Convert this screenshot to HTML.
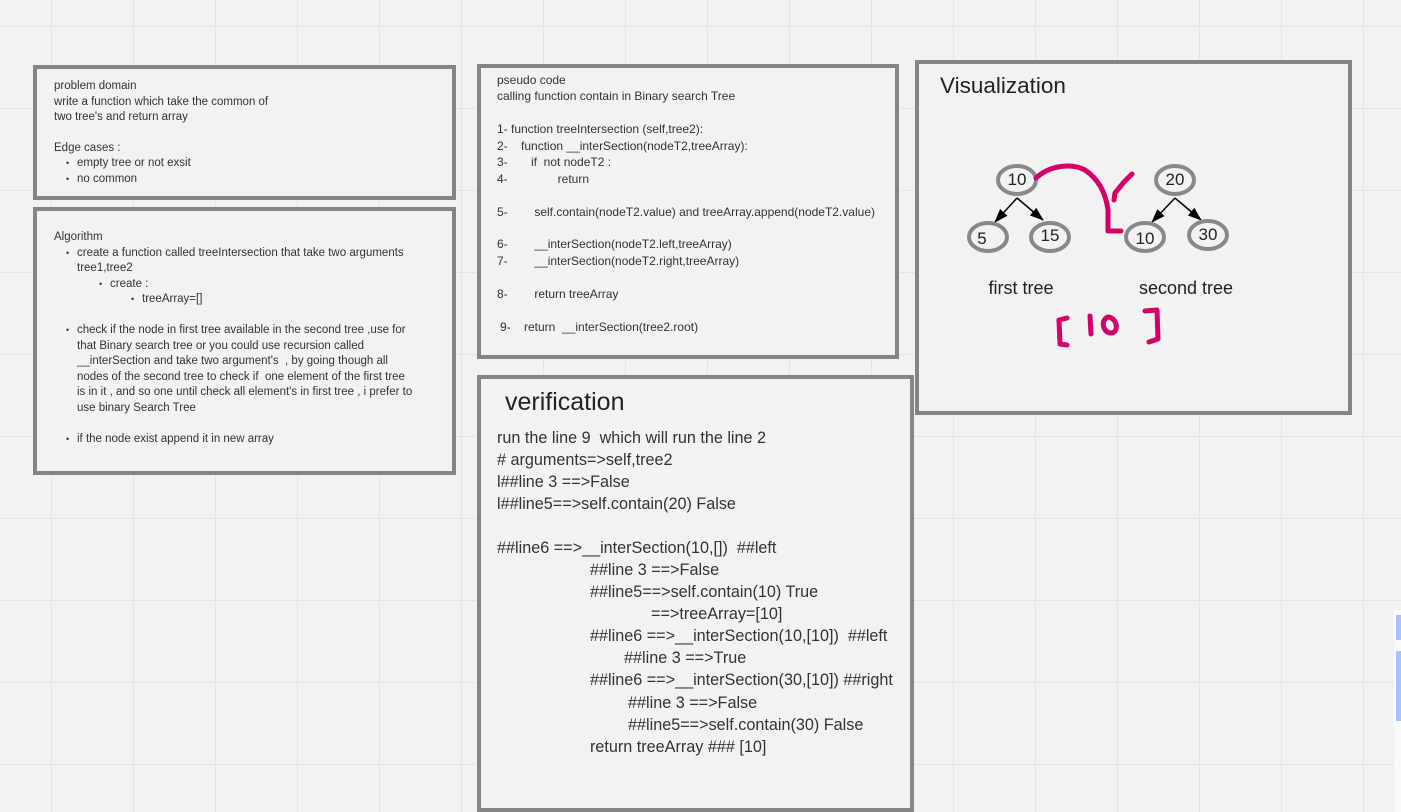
<!DOCTYPE html>
<html><head><meta charset="utf-8"><style>
html,body{margin:0;padding:0}
body{width:1401px;height:812px;position:relative;overflow:hidden;background-color:#f2f2f2;
background-image:linear-gradient(to right,#e4e4e4 1px,transparent 1px),linear-gradient(to bottom,#e4e4e4 1px,transparent 1px);
background-size:82px 82px;background-position:51px 26px;font-family:"Liberation Sans",sans-serif;color:#333}
.box{position:absolute;border:4px solid #858585;box-sizing:border-box;background:#f2f2f2}
.t{position:absolute;white-space:pre;line-height:16px;font-size:11.5px}
.p{font-size:12px}
.v{position:absolute;white-space:pre;line-height:20px;font-size:16.2px;color:#333}
.b:before{content:"•";position:absolute;left:-11px;font-size:9px}
</style></head><body>
<div class="box" style="left:33px;top:65px;width:423px;height:135px"></div>
<div class="box" style="left:33px;top:207px;width:423px;height:268px"></div>
<div class="box" style="left:477px;top:64px;width:422px;height:295px"></div>
<div class="box" style="left:477px;top:375px;width:437px;height:437px"></div>
<div class="box" style="left:915px;top:60px;width:437px;height:355px"></div>

<div class="t" style="left:54px;top:78px">problem domain</div>
<div class="t" style="left:54px;top:94px">write a function which take the common of</div>
<div class="t" style="left:54px;top:109px">two tree's and return array</div>
<div class="t" style="left:54px;top:140px">Edge cases :</div>
<div class="t b" style="left:77px;top:155px">empty tree or not exsit</div>
<div class="t b" style="left:77px;top:171px">no common</div>

<div class="t" style="left:54px;top:229px">Algorithm</div>
<div class="t b" style="left:77px;top:245px">create a function called treeIntersection that take two arguments</div>
<div class="t" style="left:77px;top:260px">tree1,tree2</div>
<div class="t b" style="left:110px;top:276px">create :</div>
<div class="t b" style="left:142px;top:291px">treeArray=[]</div>
<div class="t b" style="left:77px;top:322px">check if the node in first tree available in the second tree ,use for</div>
<div class="t" style="left:77px;top:338px">that Binary search tree or you could use recursion called</div>
<div class="t" style="left:77px;top:353px">__interSection and take two argument's  , by going though all</div>
<div class="t" style="left:77px;top:369px">nodes of the second tree to check if  one element of the first tree</div>
<div class="t" style="left:77px;top:384px">is in it , and so one until check all element's in first tree , i prefer to</div>
<div class="t" style="left:77px;top:400px">use binary Search Tree</div>
<div class="t b" style="left:77px;top:431px">if the node exist append it in new array</div>

<div class="t p" style="left:497px;top:72px">pseudo code</div>
<div class="t p" style="left:497px;top:88px">calling function contain in Binary search Tree</div>
<div class="t p" style="left:497px;top:121px">1- function treeIntersection (self,tree2):</div>
<div class="t p" style="left:497px;top:138px">2-    function __interSection(nodeT2,treeArray):</div>
<div class="t p" style="left:497px;top:154px">3-       if  not nodeT2 :</div>
<div class="t p" style="left:497px;top:171px">4-               return</div>
<div class="t p" style="left:497px;top:204px">5-        self.contain(nodeT2.value) and treeArray.append(nodeT2.value)</div>
<div class="t p" style="left:497px;top:236px">6-        __interSection(nodeT2.left,treeArray)</div>
<div class="t p" style="left:497px;top:253px">7-        __interSection(nodeT2.right,treeArray)</div>
<div class="t p" style="left:497px;top:286px">8-        return treeArray</div>
<div class="t p" style="left:500px;top:319px">9-    return  __interSection(tree2.root)</div>

<div class="v" style="left:505px;top:388px;font-size:25px;line-height:28px;color:#222">verification</div>
<div class="v" style="left:497px;top:428px">run the line 9  which will run the line 2</div>
<div class="v" style="left:497px;top:450px"># arguments=&gt;self,tree2</div>
<div class="v" style="left:497px;top:472px">l##line 3 ==&gt;False</div>
<div class="v" style="left:497px;top:494px">l##line5==&gt;self.contain(20) False</div>
<div class="v" style="left:497px;top:538px">##line6 ==&gt;__interSection(10,[])  ##left</div>
<div class="v" style="left:590px;top:560px">##line 3 ==&gt;False</div>
<div class="v" style="left:590px;top:582px">##line5==&gt;self.contain(10) True</div>
<div class="v" style="left:651px;top:604px">==&gt;treeArray=[10]</div>
<div class="v" style="left:590px;top:626px">##line6 ==&gt;__interSection(10,[10])  ##left</div>
<div class="v" style="left:624px;top:648px">##line 3 ==&gt;True</div>
<div class="v" style="left:590px;top:670px">##line6 ==&gt;__interSection(30,[10]) ##right</div>
<div class="v" style="left:628px;top:693px">##line 3 ==&gt;False</div>
<div class="v" style="left:628px;top:715px">##line5==&gt;self.contain(30) False</div>
<div class="v" style="left:590px;top:737px">return treeArray ### [10]</div>

<svg style="position:absolute;left:0;top:0" width="1401" height="812">
<defs><marker id="a2" markerWidth="14" markerHeight="10" refX="13" refY="5" orient="auto" markerUnits="userSpaceOnUse"><path d="M0,0 L14,5 L0,10 z" fill="#000"/></marker></defs>
<text x="940" y="93" font-family="Liberation Sans" font-size="22.5" fill="#222">Visualization</text>
<g stroke="#000" stroke-width="1.5">
<line x1="1017" y1="198" x2="995" y2="222" marker-end="url(#a2)"/>
<line x1="1017" y1="198" x2="1043" y2="220" marker-end="url(#a2)"/>
<line x1="1175" y1="198" x2="1152" y2="222" marker-end="url(#a2)"/>
<line x1="1175" y1="198" x2="1201" y2="220" marker-end="url(#a2)"/>
</g>
<g fill="#f2f2f2" stroke="#888" stroke-width="4">
<ellipse cx="1017" cy="180" rx="19" ry="14"/>
<ellipse cx="988" cy="237" rx="19" ry="14"/>
<ellipse cx="1050" cy="237" rx="19" ry="14"/>
<ellipse cx="1175" cy="180" rx="19" ry="14"/>
<ellipse cx="1145" cy="237" rx="19" ry="14"/>
<ellipse cx="1208" cy="235" rx="19" ry="14"/>
</g>
<g font-family="Liberation Sans" font-size="17" fill="#222" text-anchor="middle">
<text x="1017" y="185">10</text><text x="982" y="244">5</text><text x="1050" y="241">15</text>
<text x="1175" y="185">20</text><text x="1145" y="244">10</text><text x="1208" y="240">30</text>
<text x="1021" y="294" font-size="18">first tree</text><text x="1186" y="294" font-size="18">second tree</text>
</g>
<g fill="none" stroke="#d4006a" stroke-width="5" stroke-linecap="round" stroke-linejoin="round">
<path d="M1036,178 C1050,165 1072,163 1085,170 C1100,180 1106,195 1108,210 L1108,231 L1121,231"/>
<path d="M1114,200 L1115,193 L1124,182 L1132,174"/>
<path d="M1067,318 L1059,320 L1060,344 L1067,345"/>
<path d="M1090,316 L1091,334"/>
<path d="M1108,317 C1100,320 1103,333 1111,333 C1119,333 1118,318 1108,317"/>
<path d="M1145,311 L1157,310 L1158,339 L1149,342"/>
</g>
<rect x="1394" y="610" width="7" height="202" fill="#fafafa"/>
<rect x="1396" y="615" width="5" height="25" fill="#a3c3fa"/>
<rect x="1396" y="651" width="5" height="70" fill="#a3c3fa"/>
</svg>
</body></html>
